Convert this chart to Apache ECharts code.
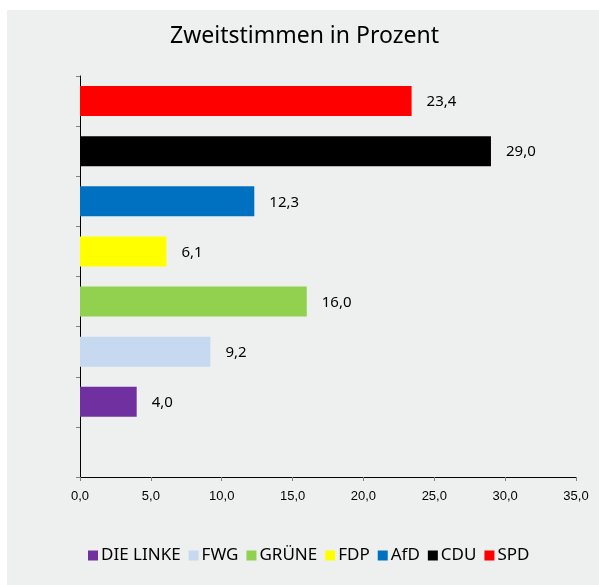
<!DOCTYPE html>
<html>
<head>
<meta charset="utf-8">
<script src="https://cdn.jsdelivr.net/npm/echarts@6/dist/echarts.min.js"></script>
<style>
html,body{margin:0;padding:0;background:#ffffff;}
#chart{width:599px;height:585px;}
</style>
</head>
<body>
<div id="chart"></div>
<script>
// Data
var categories = ["", "DIE LINKE", "FWG", "GRÜNE", "FDP", "AfD", "CDU", "SPD"];
var parties = ["DIE LINKE", "FWG", "GRÜNE", "FDP", "AfD", "CDU", "SPD"];
var values = [4.0, 9.2, 16.0, 6.1, 12.3, 29.0, 23.4];
var colors = ["#7030a0", "#c6d9f1", "#92d050", "#ffff00", "#0070c0", "#000000", "#ff0000"];
var xTicks = [0, 5, 10, 15, 20, 25, 30, 35];

function fmt(v){ return Number(v).toFixed(1).replace('.', ','); }

var series = parties.map(function(p, i){
  var d = categories.map(function(c){ return c === p ? values[i] : null; });
  return {
    name: p,
    type: 'bar',
    stack: 'all',
    barWidth: '60%',
    itemStyle: { color: colors[i] },
    data: d,
    label: {
      show: true,
      position: 'right',
      distance: 15,
      offset: [0, 1],
      formatter: function(o){ return fmt(o.value); },
      fontFamily: 'Noto Sans',
      fontSize: 15,
      color: '#000000'
    }
  };
});

var chart = echarts.init(document.getElementById('chart'), null, {renderer: 'canvas'});
chart.setOption({
  backgroundColor: '#ffffff',
  animation: false,
  graphic: [{
    type: 'rect', z: -10, silent: true,
    shape: { x: 7, y: 10, width: 600, height: 580 },
    style: { fill: '#eef0ef' }
  }],
  title: {
    text: 'Zweitstimmen in Prozent',
    left: 170, top: 25, padding: 0,
    textStyle: { fontFamily: 'Noto Sans', fontSize: 23, fontWeight: 'normal', color: '#000000' }
  },
  legend: {
    data: parties,
    left: 88, top: 547, padding: 0,
    icon: 'rect', itemWidth: 10, itemHeight: 10, itemGap: 8,
    textStyle: { fontFamily: 'Noto Sans', fontSize: 17, color: '#000000', padding: [0,0,0,-2] }
  },
  grid: { left: 80, right: 23, top: 76, bottom: 108, containLabel: false },
  xAxis: {
    type: 'value', min: xTicks[0], max: xTicks[xTicks.length-1], interval: 5,
    axisLine: { show: true, lineStyle: { color: '#000000', width: 1 } },
    axisTick: { show: true, length: 4, lineStyle: { color: '#808080' } },
    splitLine: { show: false },
    axisLabel: { formatter: function(v){ return fmt(v); }, fontFamily: 'Liberation Sans', fontSize: 13, color: '#000000', margin: 13 }
  },
  yAxis: {
    type: 'category', data: categories,
    axisLine: { show: true, lineStyle: { color: '#000000', width: 1 } },
    axisTick: { show: true, length: 4, lineStyle: { color: '#808080' } },
    axisLabel: { show: false },
    splitLine: { show: false }
  },
  series: series
});
</script>
</body>
</html>
